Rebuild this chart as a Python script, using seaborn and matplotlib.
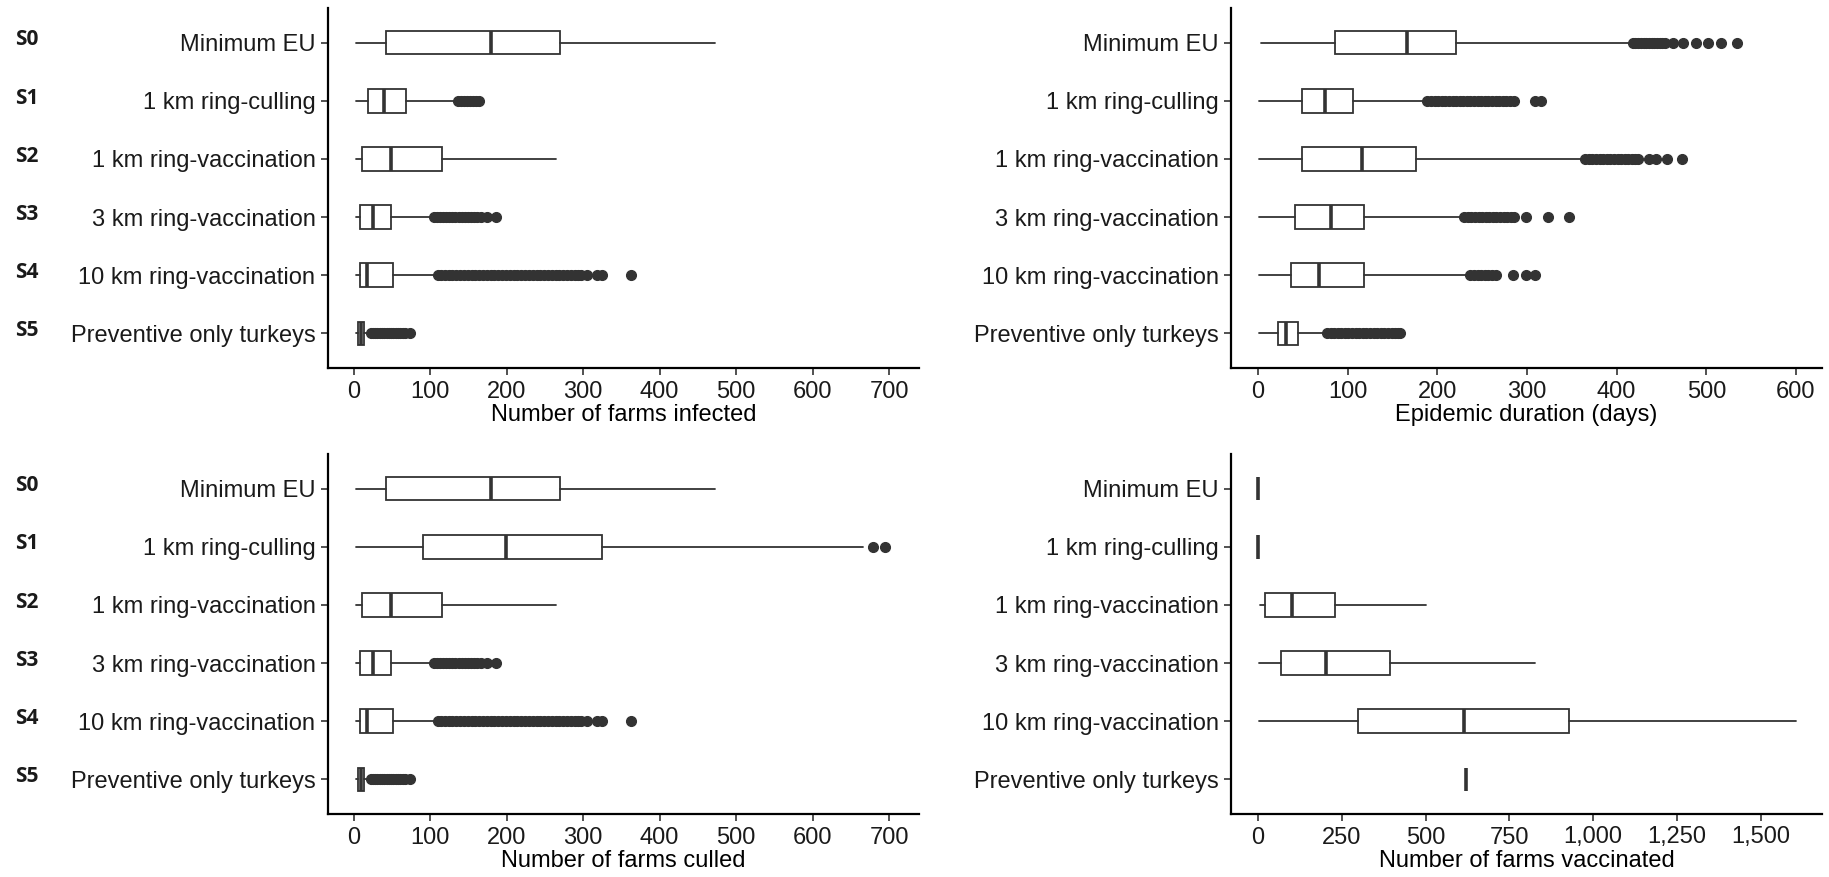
import matplotlib
matplotlib.use("Agg")
import matplotlib.pyplot as plt
from matplotlib.ticker import StrMethodFormatter
from matplotlib.transforms import blended_transform_factory
import seaborn as sns

#### DATA ####
scenarios = ["S0", "S1", "S2", "S3", "S4", "S5"]
strategies = [
    "Minimum EU",
    "1 km ring-culling",
    "1 km ring-vaccination",
    "3 km ring-vaccination",
    "10 km ring-vaccination",
    "Preventive only turkeys",
]

# (whisker low, q1, median, q3, whisker high) per strategy
infected_stats = [
    (3, 42, 180, 270, 472),
    (3, 19, 40, 68, 134),
    (3, 11, 49, 115, 265),
    (3, 8, 25, 49, 103),
    (3, 8, 18, 51, 108),
    (3, 6, 9, 14, 19),
]
infected_fliers = [
    [],
    [136, 140, 144, 148, 152, 156, 160, 164],
    [],
    [105, 109, 113, 117, 121, 125, 129, 133, 137, 141, 145, 149, 153, 157,
     161, 166, 174, 186],
    [110, 114, 119, 124, 129, 134, 139, 144, 149, 154, 159, 164, 169, 174,
     179, 184, 189, 194, 199, 204, 209, 214, 219, 224, 229, 234, 239, 244,
     249, 254, 259, 264, 269, 274, 279, 284, 289, 293, 297, 305, 318, 325, 363],
    [22, 25, 28, 31, 34, 37, 40, 43, 46, 49, 52, 55, 58, 61, 64, 67, 74],
]

duration_stats = [
    (3, 86, 166, 221, 414),
    (1, 49, 75, 106, 187),
    (1, 49, 116, 176, 363),
    (1, 41, 81, 118, 228),
    (1, 37, 68, 118, 235),
    (1, 22, 31, 45, 76),
]
duration_fliers = [
    [418, 421, 424, 427, 430, 433, 436, 439, 442, 445, 448, 451, 454, 463,
     474, 488, 502, 516, 534],
    [189, 193, 197, 201, 205, 209, 213, 217, 221, 225, 229, 233, 237, 241,
     245, 249, 253, 257, 261, 265, 269, 273, 277, 281, 286, 309, 316],
    [365, 369, 373, 377, 381, 385, 389, 393, 397, 401, 405, 409, 413, 417,
     421, 424, 436, 444, 456, 473],
    [230, 234, 238, 242, 246, 250, 254, 258, 262, 266, 270, 274, 278, 282,
     286, 299, 324, 347],
    [237, 241, 245, 249, 253, 257, 261, 265, 284, 299, 309],
    [77, 81, 85, 89, 93, 97, 101, 105, 109, 113, 117, 121, 125, 129, 133,
     137, 141, 145, 149, 153, 156, 159],
]

culled_stats = [
    (3, 42, 180, 270, 472),
    (3, 91, 199, 324, 666),
    (3, 11, 49, 115, 265),
    (3, 8, 25, 49, 103),
    (3, 8, 18, 51, 108),
    (3, 6, 9, 14, 19),
]
culled_fliers = [
    [],
    [679, 694],
    [],
    [105, 109, 113, 117, 121, 125, 129, 133, 137, 141, 145, 149, 153, 157,
     161, 166, 174, 186],
    [110, 114, 119, 124, 129, 134, 139, 144, 149, 154, 159, 164, 169, 174,
     179, 184, 189, 194, 199, 204, 209, 214, 219, 224, 229, 234, 239, 244,
     249, 254, 259, 264, 269, 274, 279, 284, 289, 293, 297, 305, 318, 325, 363],
    [22, 25, 28, 31, 34, 37, 40, 43, 46, 49, 52, 55, 58, 61, 64, 67, 74],
]

vaccinated_stats = [
    (0, 0, 0, 0, 0),
    (0, 0, 0, 0, 0),
    (7, 21, 100, 228, 502),
    (4, 69, 202, 393, 827),
    (4, 297, 615, 927, 1605),
    (620, 620, 620, 620, 620),
]
vaccinated_fliers = [[], [], [], [], [], []]

#### STYLE ####
sns.set_theme(style="ticks")
plt.rcParams["font.family"] = ["Liberation Sans", "DejaVu Sans"]
FS = 17
DARK = "#333333"

fig = plt.figure(figsize=(18.29, 8.77), dpi=100)

left_x, right_x, ax_w = 328 / 1829, 1231 / 1829, 591 / 1829
top_y, bot_y = 1 - 368 / 877, 1 - 814 / 877
ax_h = 360 / 877

panels = [
    (left_x, top_y, infected_stats, infected_fliers, "Number of farms infected",
     (-33.6, 739), range(0, 701, 100), True, False),
    (right_x, top_y, duration_stats, duration_fliers, "Epidemic duration (days)",
     (-30, 629), range(0, 601, 100), False, False),
    (left_x, bot_y, culled_stats, culled_fliers, "Number of farms culled",
     (-33.6, 739), range(0, 701, 100), True, False),
    (right_x, bot_y, vaccinated_stats, vaccinated_fliers, "Number of farms vaccinated",
     (-81, 1683), range(0, 1501, 250), False, True),
]

positions = list(range(1, len(strategies) + 1))

for x0, y0, stats, fliers, xlabel, xlim, xticks, show_s, comma in panels:
    ax = fig.add_axes([x0, y0, ax_w, ax_h])
    bstats = []
    for (wlo, q1, med, q3, whi), fl in zip(stats, fliers):
        bstats.append(dict(whislo=wlo, q1=q1, med=med, q3=q3, whishi=whi, fliers=fl))
    ax.bxp(
        bstats,
        positions=positions,
        orientation="horizontal",
        widths=0.4,
        showcaps=False,
        patch_artist=True,
        boxprops=dict(facecolor="white", edgecolor=DARK, linewidth=1.3),
        whiskerprops=dict(color=DARK, linewidth=1.3),
        medianprops=dict(color=DARK, linewidth=2.6, solid_capstyle="butt"),
        flierprops=dict(marker="o", markerfacecolor=DARK, markeredgecolor=DARK,
                        markersize=7, linestyle="none"),
    )
    ax.set_ylim(6.6, 0.4)
    ax.set_xlim(*xlim)
    ax.set_xticks(list(xticks))
    if comma:
        ax.xaxis.set_major_formatter(StrMethodFormatter("{x:,.0f}"))
    ax.set_yticks(positions)
    ax.set_yticklabels(strategies)
    ax.set_xlabel(xlabel, fontsize=FS, color="black", labelpad=1)
    ax.tick_params(axis="both", labelsize=FS, length=5, width=1.2,
                   color=DARK, labelcolor="#1a1a1a", pad=4)
    sns.despine(ax=ax)
    for side in ["left", "bottom"]:
        ax.spines[side].set_linewidth(1.6)
        ax.spines[side].set_color("black")
    ax.grid(False)
    if show_s:
        trans = blended_transform_factory(fig.transFigure, ax.transData)
        for pos, s in zip(positions, scenarios):
            ax.text(15 / 1829, pos - 0.05, s, transform=trans,
                    fontsize=15, fontweight="bold", family=["Open Sans", "DejaVu Sans"],
                    ha="left", va="center", color="#1a1a1a")

fig.savefig("out.png", dpi=100)
